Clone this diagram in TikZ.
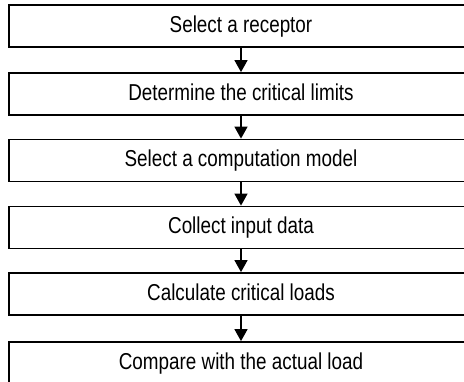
\documentclass[tikz,border=0pt]{standalone}
\usepackage{fontspec}
\setmainfont{Liberation Sans}[FakeStretch=0.82]
\usetikzlibrary{arrows.meta}

\tikzset{
  stepbox/.style={draw=black, line width=1.8pt, rectangle,
    minimum width=464pt, minimum height=42pt, inner sep=0pt,
    font=\fontsize{23pt}{27pt}\selectfont, text height=16.5pt, text depth=3.6pt},
  flow/.style={line width=1.5pt, -{Triangle[width=13pt,length=12pt]}}
}

\begin{document}
\begin{tikzpicture}[x=1pt,y=-1pt]
  \path[use as bounding box, clip] (0,0) rectangle (464,382);
  \fill[white] (0,0) rectangle (464,382);

  % the six steps of the procedure, top to bottom
  \node[stepbox] (s1) at (241,26)    {Select a receptor};
  \node[stepbox] (s2) at (241,94)    {Determine the critical limits};
  \node[stepbox] (s3) at (241,160.5) {Select a computation model};
  \node[stepbox] (s4) at (241,227.5) {Collect input data};
  \node[stepbox] (s5) at (241,294)   {Calculate critical loads};
  \node[stepbox] (s6) at (241,363)   {Compare with the actual load};

  % connectors between consecutive steps
  \draw[flow] (s1.south) -- (s2.north);
  \draw[flow] (s2.south) -- (s3.north);
  \draw[flow] (s3.south) -- (s4.north);
  \draw[flow] (s4.south) -- (s5.north);
  \draw[flow] (s5.south) -- (s6.north);
\end{tikzpicture}
\end{document}
